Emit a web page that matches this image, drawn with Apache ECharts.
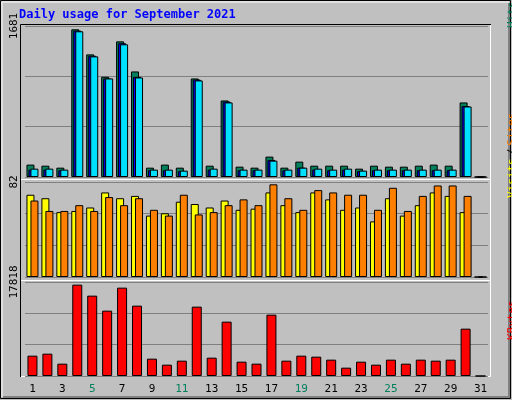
<!DOCTYPE html>
<html>
<head>
<meta charset="utf-8">
<script src="https://cdn.jsdelivr.net/npm/echarts@6/dist/echarts.min.js"></script>
<style>body{margin:0;background:#c0c0c0}#main{width:512px;height:400px}</style>
</head>
<body>
<div id="main"></div>
<script>
var days = ['1','2','3','4','5','6','7','8','9','10','11','12','13','14','15','16','17','18','19','20','21','22','23','24','25','26','27','28','29','30','31'];
var weekend = ['4','5','11','12','18','19','25','26'];
var hits = [138,126,104,1644,1365,1116,1510,1175,104,138,104,1097,126,852,115,104,227,104,171,126,126,126,93,126,115,115,126,138,126,830,0];
var pages = [82,82,75,1630,1350,1097,1490,1115,75,75,65,1085,82,840,75,75,190,75,104,82,75,82,65,75,75,75,75,75,75,790,0];
var files = [93,93,82,1622,1343,1097,1477,1108,82,82,71,1075,93,830,82,82,182,82,104,93,82,93,71,82,82,82,82,82,82,785,0];
var visits = [71,68,56,57,60,73,68,70,53,55,65,63,60,66,58,59,73,62,56,73,67,58,60,48,68,53,62,73,70,56,0];
var sites = [66,57,57,62,57,69,62,68,58,53,71,54,56,62,67,62,80,68,58,75,73,71,71,58,77,57,70,79,79,70,0];
var kbytes = [3855,4234,2338,17317,15231,12387,16748,13335,3286,2149,2907,13146,3476,10302,2718,2338,11629,2907,3855,3666,3097,1580,2718,2149,3097,2338,3097,2907,3097,8974,0];
var maxHits = 1681, maxVisits = 82, maxKB = 17818;

var myChart = echarts.init(document.getElementById('main'));
var font = 'DejaVu Sans Mono';
var grids = [
    {left: 25, width: 463, top: 26, height: 151},
    {left: 25, width: 463, top: 182, height: 95},
    {left: 25, width: 463, top: 282, height: 94}
];
function xAx(i, show) {
    return {
        type: 'category', gridIndex: i, data: days,
        axisLine: {show: false}, axisTick: {show: false},
        axisLabel: {
            show: show, margin: 8, fontFamily: font, fontSize: 11,
            color: function (v) { return weekend.indexOf(v) >= 0 ? '#00805c' : '#000'; }
        }
    };
}
function yAx(i, max) {
    return {
        type: 'value', gridIndex: i, min: 0, max: max, interval: max / 3,
        axisLine: {show: false}, axisTick: {show: false},
        splitLine: {lineStyle: {color: '#808080', width: 1}},
        axisLabel: {
            rotate: 90, margin: 5, fontFamily: font, fontSize: 11, color: '#000',
            formatter: function (v) { return v >= max - 0.5 ? String(max) : ''; }
        }
    };
}
function bar(name, data, color, x, w, gap) {
    return {
        name: name, type: 'bar', xAxisIndex: x, yAxisIndex: x, data: data,
        barWidth: w, barGap: gap, animation: false,
        itemStyle: {color: color, borderColor: '#000', borderWidth: 1}
    };
}
function vtext(x, y, parts) {
    return {type: 'text', x: x, y: y, rotation: Math.PI / 2,
        style: {rich: parts.rich, text: parts.text, font: '11px ' + font}};
}

option = {
    backgroundColor: '#c0c0c0',
    grid: grids,
    xAxis: [xAx(0, false), xAx(1, false), xAx(2, true)],
    yAxis: [yAx(0, maxHits), yAx(1, maxVisits), yAx(2, maxKB)],
    series: [
        bar('Hits', hits, '#00805c', 0, 8, '-75%'),
        bar('Pages', pages, '#0000ff', 0, 8, '-75%'),
        bar('Files', files, '#00e0ff', 0, 8, '-75%'),
        bar('Visits', visits, '#ffff00', 1, 8, '-50%'),
        bar('Sites', sites, '#ff8000', 1, 8, '-50%'),
        bar('KBytes', kbytes, '#ff0000', 2, 10, '0%')
    ],
    graphic: [
        {type: 'rect', shape: {x: 0.5, y: 0.5, width: 510, height: 398}, style: {fill: null, stroke: '#000', lineWidth: 1}},
        {type: 'polyline', shape: {points: [[2, 397], [2, 2], [509, 2]]}, style: {stroke: '#fff', lineWidth: 1}},
        {type: 'polyline', shape: {points: [[3, 397], [509, 397], [509, 3]]}, style: {stroke: '#808080', lineWidth: 2}},
        {type: 'text', x: 19, y: 9, style: {text: 'Daily usage for September 2021', fill: '#0000ff', font: 'bold 12px ' + font}},
        {type: 'polyline', shape: {points: [[20.5, 377], [20.5, 24.5], [491, 24.5]]}, style: {stroke: '#000', lineWidth: 1}},
        {type: 'polyline', shape: {points: [[21, 376.5], [490.5, 376.5], [490.5, 25]]}, style: {stroke: '#fff', lineWidth: 1}},
        {type: 'line', shape: {x1: 21, y1: 179.5, x2: 490, y2: 179.5}, style: {stroke: '#fff', lineWidth: 1}},
        {type: 'line', shape: {x1: 21, y1: 280.5, x2: 490, y2: 280.5}, style: {stroke: '#fff', lineWidth: 1}},
        vtext(507, 28, {text: '{h|Hits}{s|/}{f|Files}{s|/}{p|Pages}', rich: {
            h: {fill: '#00805c', font: '11px ' + font},
            f: {fill: '#0000ff', font: '11px ' + font},
            p: {fill: '#00e0ff', font: '11px ' + font},
            s: {fill: '#000', font: '11px ' + font, padding: [0, 3]}}}),
        vtext(507, 198, {text: '{v|Visits}{s|/}{t|Sites}', rich: {
            v: {fill: '#ffff00', font: '11px ' + font},
            t: {fill: '#ff8000', font: '11px ' + font},
            s: {fill: '#000', font: '11px ' + font, padding: [0, 3]}}}),
        vtext(507, 340, {text: '{k|KBytes}', rich: {k: {fill: '#ff0000', font: '11px ' + font}}})
    ]
};
myChart.setOption(option, true);
</script>
</body>
</html>
